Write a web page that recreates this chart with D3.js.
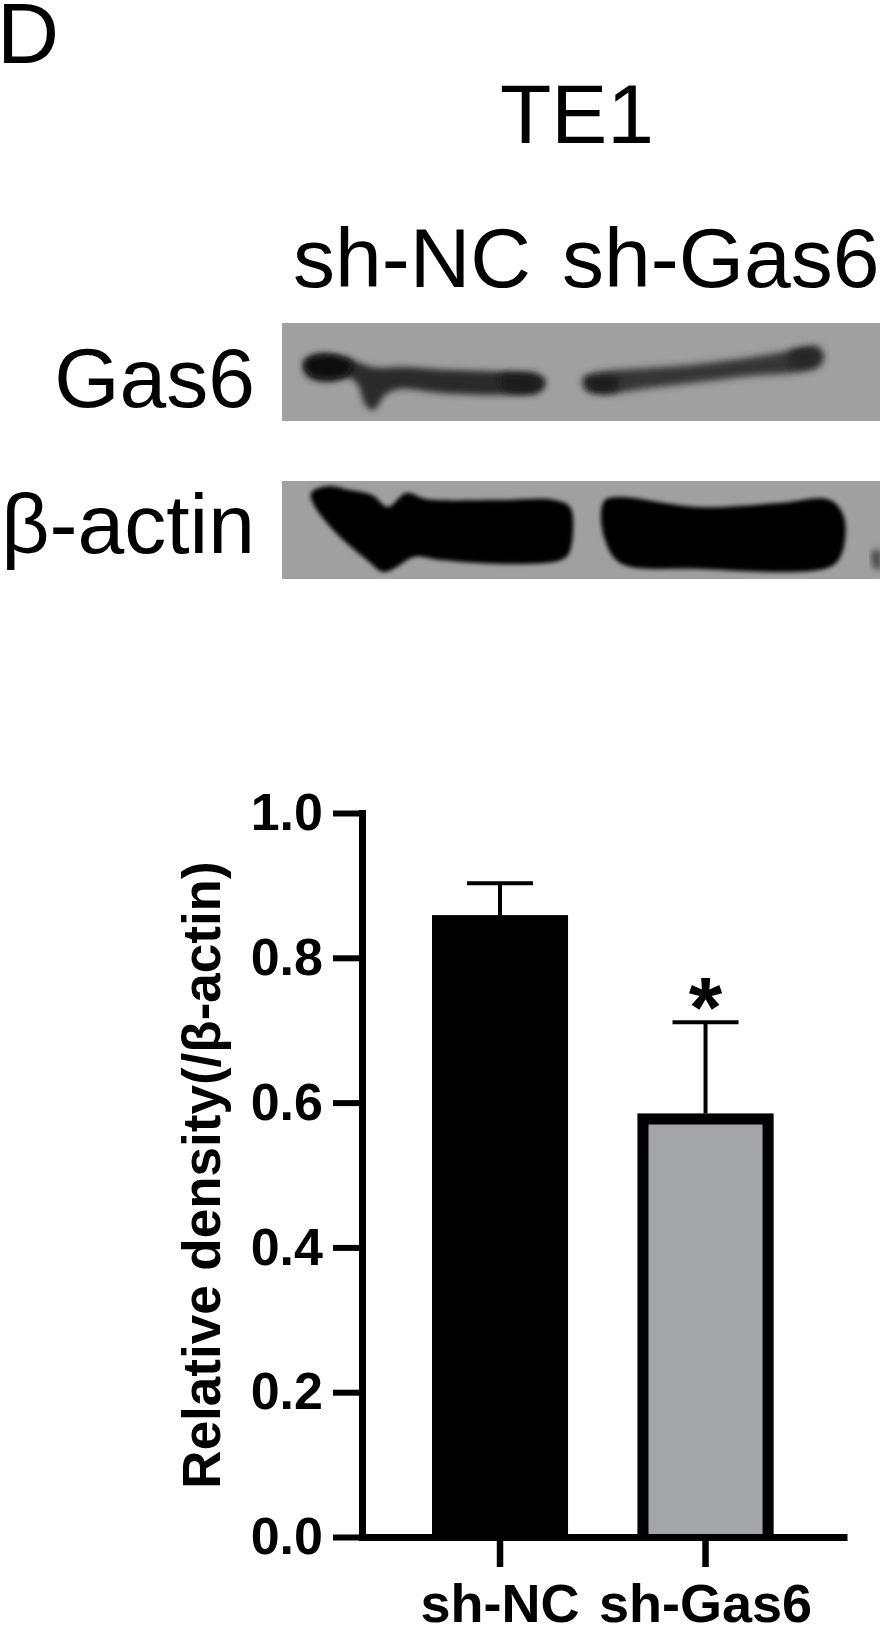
<!DOCTYPE html>
<html><head><meta charset="utf-8">
<script src="https://cdn.jsdelivr.net/npm/d3@7"></script>
<style>
body{margin:0;background:#fff}
svg{display:block}
text{font-family:"Liberation Sans",Arial,sans-serif;fill:#000}
</style>
</head><body>
<svg id="c" width="880" height="1627"></svg>
<script>
// ---------- data ----------
const categories = ["sh-NC", "sh-Gas6"];
const means = [0.859, 0.585];
const errors = [0.044, 0.126];
const significance = ["", "*"];
const yTicks = [0.0, 0.2, 0.4, 0.6, 0.8, 1.0];
const yLabel = "Relative density(/β-actin)";
const panelLabel = "D";
const cellLine = "TE1";
const laneLabels = ["sh-NC", "sh-Gas6"];
const blotLabels = ["Gas6", "β-actin"];
const barFills = ["#000000", "#a4a5a8"];

// blot band outlines (image decoration, in blot-strip pixel space)
const gas6Bands = [
  {fill:"#2a2a2a", blur:3, pts:[[303,364],[310,356],[330,354],[350,359],[362,364],[380,368],[400,367],[450,370],[510,372],[538,374],[546,382],[540,392],[500,395],[440,393],[400,389],[385,395],[374,410],[366,406],[358,385],[350,378],[330,382],[308,377]]},
  {fill:"#0a0a0a", blur:3, pts:[[305,362],[318,356],[340,357],[352,363],[348,374],[328,378],[310,374]]},
  {fill:"#1c1c1c", blur:3, pts:[[500,376],[530,375],[542,382],[536,390],[505,390]]},
  {fill:"#353535", blur:3.5, pts:[[583,378],[600,372],[650,368],[700,364],[760,356],[800,349],[818,347],[824,356],[820,366],[800,372],[750,376],[700,382],[650,388],[600,394],[586,390]]},
  {fill:"#1e1e1e", blur:3, pts:[[586,380],[600,376],[618,378],[616,390],[598,392],[588,388]]},
  {fill:"#262626", blur:3, pts:[[790,352],[812,348],[820,356],[812,366],[792,366]]}
];
const actinBands = [
  {fill:"#050505", blur:2, pts:[[311,493],[328,486],[350,490],[372,495],[388,507],[406,493],[426,499],[500,500],[554,500],[570,507],[573,533],[568,555],[558,561],[503,564],[440,560],[414,557],[395,568],[383,572],[367,560],[336,533],[314,505]]},
  {fill:"#050505", blur:2, pts:[[601,513],[605,500],[620,497],[698,507],[780,503],[830,500],[844,517],[842,553],[830,567],[698,569],[620,563],[605,540]]},
  {fill:"#4a4a4a", blur:3, pts:[[872,552],[880,550],[880,570],[874,568]]}
];

// ---------- setup ----------
const svg = d3.select("#c");
const defs = svg.append("defs");
const font = '"Liberation Sans",Arial,sans-serif';

// panel + header text
svg.append("text").attr("x", -3).attr("y", 63).attr("font-size", 86).text(panelLabel);
svg.append("text").attr("x", 500).attr("y", 143).attr("font-size", 84).text(cellLine);
const laneX = [293, 562];
svg.selectAll(".lane").data(laneLabels).join("text")
  .attr("class","lane").attr("x", (d,i)=>laneX[i]).attr("y", 287)
  .attr("font-size", 84).text(d=>d);

// blots
const blotBox = {x0:282, x1:880, h:98};
const blotTops = [323, 481];
const blotBaselines = [407, 553];
const bandSets = [gas6Bands, actinBands];
const bx = d3.scaleLinear().domain([282, 880]).range([blotBox.x0, blotBox.x1]);
blotLabels.forEach((lab, i) => {
  const top = blotTops[i];
  const cid = "clip" + i;
  defs.append("clipPath").attr("id", cid).append("rect")
    .attr("x", blotBox.x0).attr("y", top).attr("width", blotBox.x1 - blotBox.x0).attr("height", blotBox.h);
  const g = svg.append("g").attr("clip-path", `url(#${cid})`);
  g.append("rect").attr("x", blotBox.x0).attr("y", top)
    .attr("width", blotBox.x1 - blotBox.x0).attr("height", blotBox.h).attr("fill", "#a0a0a0");
  const line = d3.line().x(d=>bx(d[0])).y(d=>d[1]).curve(d3.curveCatmullRomClosed.alpha(0.5));
  bandSets[i].forEach((b, j) => {
    const fid = `blur${i}_${j}`;
    defs.append("filter").attr("id", fid).attr("x","-20%").attr("y","-50%").attr("width","140%").attr("height","200%")
      .append("feGaussianBlur").attr("stdDeviation", b.blur);
    g.append("path").attr("d", line(b.pts)).attr("fill", b.fill).attr("filter", `url(#${fid})`);
  });
  svg.append("text").attr("x", 255).attr("y", blotBaselines[i])
    .attr("text-anchor","end").attr("font-size", 84).text(lab);
});

// ---------- bar chart ----------
const y = d3.scaleLinear().domain([0, 1]).range([1537, 813]);
const x = d3.scaleBand().domain(categories).range([362, 847])
  .paddingInner(0.338).paddingOuter(0.349).align(0.488);
const bw = x.bandwidth();
const borderW = 11;

const bars = svg.append("g");
categories.forEach((c, i) => {
  const x0 = x(c), top = y(means[i]), base = y(0);
  bars.append("rect").attr("x", x0).attr("y", top)
    .attr("width", bw).attr("height", base - top).attr("fill", barFills[i]);
  if (i > 0) {
    const h = borderW / 2;
    bars.append("path")
      .attr("d", `M${x0 + h},${base} V${top + h} H${x0 + bw - h} V${base}`)
      .attr("fill", "none").attr("stroke", "#000").attr("stroke-width", borderW)
      .attr("stroke-linejoin", "miter");
  }
});

// error bars (upper only)
const capW = 66;
categories.forEach((c, i) => {
  const cx = x(c) + bw/2;
  const top = y(means[i] + errors[i]);
  bars.append("line").attr("x1", cx).attr("x2", cx).attr("y1", y(means[i])).attr("y2", top)
    .attr("stroke", "#000").attr("stroke-width", 4);
  bars.append("line").attr("x1", cx - capW/2).attr("x2", cx + capW/2).attr("y1", top).attr("y2", top)
    .attr("stroke", "#000").attr("stroke-width", 4);
  if (significance[i]) {
    bars.append("text").attr("x", cx).attr("y", top + 15)
      .attr("text-anchor","middle").attr("font-size", 86).attr("font-weight","bold")
      .text(significance[i]);
  }
});

// axes
const yAxis = svg.append("g").attr("transform", "translate(362,0)")
  .call(d3.axisLeft(y).tickValues(yTicks).tickFormat(d3.format(".1f"))
    .tickSize(29).tickSizeOuter(0).tickPadding(10));
yAxis.attr("font-size", 52).attr("font-family", font).attr("font-weight", "bold");
yAxis.select(".domain").attr("stroke-width", 7).attr("stroke-linecap", "square").attr("stroke","#000");
yAxis.selectAll(".tick line").attr("stroke-width", 6).attr("stroke","#000");
yAxis.selectAll(".tick text").attr("fill", "#000");

const xAxis = svg.append("g").attr("transform", "translate(0,1537)")
  .call(d3.axisBottom(x).tickSize(30).tickSizeOuter(0).tickPadding(17));
xAxis.attr("font-size", 54).attr("font-family", font).attr("font-weight", "bold");
xAxis.select(".domain").attr("stroke-width", 7).attr("stroke","#000");
xAxis.selectAll(".tick line").attr("stroke-width", 6.5).attr("stroke","#000");
xAxis.selectAll(".tick text").attr("fill", "#000");

// y label
svg.append("text").attr("transform", "translate(220,1175) rotate(-90)")
  .attr("text-anchor","middle").attr("font-size", 53).attr("font-weight","bold").text(yLabel);
</script>
</body></html>
